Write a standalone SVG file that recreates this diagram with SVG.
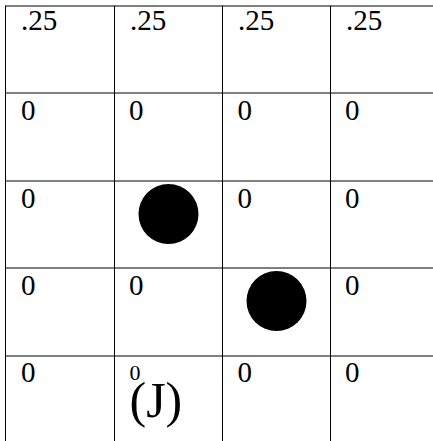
<svg xmlns="http://www.w3.org/2000/svg" width="433" height="441" viewBox="0 0 433 441">
<style>
.grid line{stroke:#000;stroke-width:1}
.t{font-family:"Liberation Serif","DejaVu Serif",serif;font-size:29px;fill:#000}
.s{font-family:"Liberation Serif","DejaVu Serif",serif;font-size:22px;fill:#000}
.j{font-family:"Liberation Serif","DejaVu Serif",serif;font-size:50px;fill:#000}
.dot{fill:#000}
</style>
<rect width="433" height="441" fill="#fff"/>
<g id="grid" class="grid">
<line x1="5.5" y1="6" x2="433" y2="6"/>
<line x1="5.5" y1="93" x2="433" y2="93"/>
<line x1="5.5" y1="181" x2="433" y2="181"/>
<line x1="5.5" y1="268" x2="433" y2="268"/>
<line x1="5.5" y1="356" x2="433" y2="356"/>
<line x1="5.5" y1="5.5" x2="5.5" y2="441"/>
<line x1="114.5" y1="5.5" x2="114.5" y2="441"/>
<line x1="222.5" y1="5.5" x2="222.5" y2="441"/>
<line x1="330.5" y1="5.5" x2="330.5" y2="441"/>
</g>
<g id="row1">
<text class="t" x="21" y="30">.25</text>
<text class="t" x="130" y="30">.25</text>
<text class="t" x="238" y="30">.25</text>
<text class="t" x="346" y="30">.25</text>
</g>
<g id="row2">
<text class="t" x="21" y="120">0</text>
<text class="t" x="129" y="120">0</text>
<text class="t" x="237.5" y="120">0</text>
<text class="t" x="345" y="120">0</text>
</g>
<g id="row3">
<text class="t" x="21" y="208">0</text>
<circle id="agent1" class="dot" cx="168.5" cy="214" r="30"/>
<text class="t" x="237.5" y="208">0</text>
<text class="t" x="345" y="208">0</text>
</g>
<g id="row4">
<text class="t" x="21" y="295">0</text>
<text class="t" x="129" y="295">0</text>
<circle id="agent2" class="dot" cx="276.5" cy="301" r="30"/>
<text class="t" x="345" y="295">0</text>
</g>
<g id="row5">
<text class="t" x="21" y="382">0</text>
<text class="s" x="129.5" y="380">0</text>
<text class="j" x="129.5" y="417">(J)</text>
<text class="t" x="237.5" y="382">0</text>
<text class="t" x="345" y="382">0</text>
</g>
</svg>
